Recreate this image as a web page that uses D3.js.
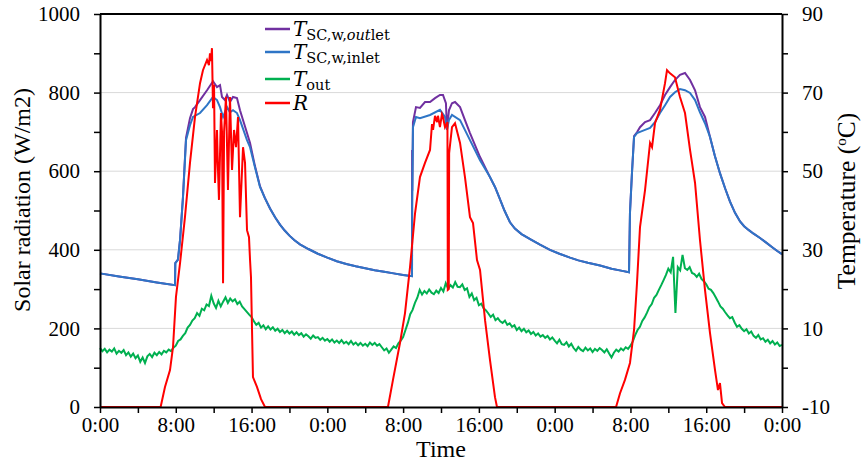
<!DOCTYPE html>
<html>
<head>
<meta charset="utf-8">
<script src="https://cdn.jsdelivr.net/npm/d3@7"></script>
<style>
  body { margin: 0; background: #fff; }
  svg text { font-family: "Liberation Serif", "Times New Roman", serif; fill: #000; }
</style>
</head>
<body>
<div id="wrapper"></div>
<script>
// solar radiation R, [hour, W/m2]
const radiation = [
  [0,0],[6.4,0],[6.86,51],[7.39,94],[7.71,153],[8.02,280],[8.45,366],[8.97,483],[9.5,621],[10.03,738],
  [10.56,824],[10.87,857],[11.3,883],[11.5,870],[11.61,900],[11.72,880],[11.82,913],[11.93,760],[12.04,820],
  [12.14,570],[12.35,705],[12.46,600],[12.56,527],[12.77,748],[12.88,700],[12.99,315],[13.1,700],[13.3,789],
  [13.51,552],[13.72,789],[13.94,603],[14.15,705],[14.36,661],[14.57,738],[14.78,483],[15.1,661],[15.31,621],
  [15.52,450],[15.73,432],[15.84,374],[15.94,331],[16.05,196],[16.15,76],[16.57,51],[17.0,20],[17.42,0],
  [30.4,0],[30.93,69],[31.67,163],[32.2,239],[32.73,356],[33.26,493],[33.78,585],[34.31,621],[34.84,654],
  [35.05,720],[35.16,705],[35.37,741],[35.58,725],[35.68,741],[35.89,712],[36.1,745],[36.21,738],[36.42,712],
  [36.68,725],[36.72,298],[36.82,300],[36.86,646],[37.16,712],[37.48,722],[38.01,672],[38.53,585],[39.06,483],
  [39.38,468],[39.8,374],[40.12,349],[40.65,221],[41.17,120],[41.7,25],[41.91,0],
  [54.48,0],[54.9,35],[55.42,69],[55.95,112],[56.38,196],[56.69,315],[57.01,458],[57.54,552],[58.07,672],
  [58.28,661],[58.59,722],[59.12,756],[59.65,824],[59.86,857],[60.18,849],[60.7,839],[61.23,789],[61.76,748],
  [62.29,654],[62.5,621],[62.82,570],[63.34,425],[63.87,298],[64.4,188],[64.93,94],[65.24,43],[65.45,61],
  [65.67,10],[65.98,0],[72,0]
];

// collector water inlet temperature, [hour, degC]
const inletTemp = [
  [0,24.0],[2,23.2],[4,22.5],[6,21.7],[7.92,21.0],[7.95,26.6],[8.23,27.5],[8.45,32.5],[8.76,43.4],[9.08,57.9],
  [9.5,61.7],[9.82,63.8],[10.56,64.8],[11.3,66.8],[11.93,68.9],[12.35,68.1],[12.67,66.3],[12.99,63.8],[13.41,66.3],
  [13.72,65.0],[14.04,65.5],[14.46,64.8],[14.78,63.0],[15.52,57.9],[15.84,56.1],[16.36,51.0],[16.89,46.0],
  [17.4,43.2],[17.95,40.5],[18.5,38.2],[19.0,36.4],[19.5,34.9],[20,33.6],[20.5,32.5],[21.11,31.4],[22,30.2],
  [23,29.0],[24,28.0],[25,27.1],[26,26.4],[27,25.8],[28,25.3],[29,24.8],[30,24.4],[31,24.0],[32,23.6],
  [32.94,23.3],[32.96,40.9],[33.04,61.2],[33.36,63.8],[33.78,63.5],[34.84,64.3],[35.89,65.6],[36.42,63.8],
  [36.63,60.5],[36.84,63.0],[37.16,64.3],[38.01,63.0],[39.06,57.9],[40.12,52.8],[41.17,48.5],[41.7,46.0],
  [42.2,43.0],[42.7,40.0],[43.28,37.0],[43.8,35.4],[44.5,34.0],[45.5,32.6],[46.45,31.3],[47.5,30.0],
  [48.5,29.0],[49.62,28.0],[50.5,27.3],[51.5,26.7],[52.79,26.0],[54,25.2],[55,24.7],[55.85,24.3],
  [55.95,39.4],[56.16,49.5],[56.38,58.7],[56.69,59.7],[57.01,60.0],[57.54,60.5],[58.07,61.0],[58.59,62.5],
  [59.12,64.8],[59.65,66.8],[60.18,68.9],[60.7,70.1],[61.23,70.9],[61.76,70.6],[62.29,69.9],[62.82,68.1],
  [63.34,65.0],[63.87,62.2],[64.4,58.7],[64.9,54.0],[65.45,49.5],[66,45.6],[66.5,42.3],[67.04,39.4],
  [67.57,37.2],[68,36.0],[68.5,35.0],[69,34.1],[69.68,33.0],[70.3,31.9],[71,30.6],[71.5,29.7],[72,28.9]
];

// collector water outlet temperature, [hour, degC]
const outletTemp = [
  [0,24.0],[2,23.2],[4,22.5],[6,21.7],[7.92,21.0],[7.95,26.6],[8.23,27.5],[8.45,32.5],[8.76,43.4],[9.08,58.5],
  [9.5,63.5],[9.82,65.8],[10.03,66.3],[10.56,68.1],[11.3,70.6],[11.93,72.9],[12.35,71.4],[12.67,71.9],[12.88,68.9],
  [13.2,68.1],[13.41,69.4],[13.72,67.6],[14.04,68.9],[14.46,68.6],[14.78,65.5],[15.52,59.7],[15.84,57.2],
  [16.36,51.3],[16.89,46.2],[17.4,43.2],[17.95,40.5],[18.5,38.2],[19.0,36.4],[19.5,34.9],[20,33.6],[20.5,32.5],
  [21.11,31.4],[22,30.2],[23,29.0],[24,28.0],[25,27.1],[26,26.4],[27,25.8],[28,25.3],[29,24.8],[30,24.4],
  [31,24.0],[32,23.6],[32.94,23.3],[32.95,55.4],[32.97,45.0],[33.04,62.5],[33.36,66.3],[33.78,66.1],
  [34.31,67.6],[34.84,67.6],[35.37,68.6],[35.89,69.4],[36.21,69.4],[36.52,67.3],[36.63,60.5],[36.84,65.5],
  [37.16,67.3],[37.48,67.6],[38.01,66.3],[38.53,63.0],[39.06,59.7],[40.12,53.6],[41.17,48.5],[41.7,46.0],
  [42.2,43.0],[42.7,40.0],[43.28,37.0],[43.8,35.4],[44.5,34.0],[45.5,32.6],[46.45,31.3],[47.5,30.0],
  [48.5,29.0],[49.62,28.0],[50.5,27.3],[51.5,26.7],[52.79,26.0],[54,25.2],[55,24.7],[55.85,24.3],
  [55.95,39.4],[56.16,49.5],[56.38,58.9],[56.69,59.9],[57.01,61.2],[57.54,62.5],[58.07,63.0],[58.59,64.8],
  [59.12,66.8],[59.65,69.4],[60.18,71.4],[60.7,73.2],[61.23,74.5],[61.76,75.0],[62.29,73.2],[62.82,70.6],
  [63.34,66.3],[63.87,63.8],[64.4,58.7],[64.9,54.0],[65.45,49.5],[66,45.6],[66.5,42.3],[67.04,39.4],
  [67.57,37.2],[68,36.0],[68.5,35.0],[69,34.1],[69.68,33.0],[70.3,31.9],[71,30.6],[71.5,29.7],[72,28.9]
];

// outdoor temperature, degC, one reading every 15 min from 0:00
const outdoorStep = 0.25;
const outdoorTemp = [
  5.0,4.2,4.8,3.9, 4.6,4.1,4.9,3.6, 4.3,3.8,4.5,3.2, 3.9,2.8,3.6,2.4, 3.1,1.5,2.6,1.2,
  2.9,3.5,2.7,3.8, 3.2,4.0,3.4,4.3, 3.9,4.6,4.2,5.1, 5.6,6.8,7.2,8.1, 8.8,10.2,10.9,12.0,
  12.6,13.9,13.2,15.0, 14.6,16.1,15.7,18.3, 16.4,15.2,17.0,15.6, 16.8,17.9,16.5,17.6, 16.9,17.4,16.2,16.8,
  15.6,14.9,14.2,13.5, 12.9,11.8,10.9,11.4, 10.2,10.8,9.8,10.5, 9.7,10.3,9.4,9.9, 9.1,9.6,8.8,9.4,
  8.7,9.2,8.4,9.0, 8.3,8.8,7.9,8.5, 8.0,7.4,8.2,7.6, 7.8,7.1,7.6,6.9, 7.3,6.6,7.2,6.4,
  6.9,6.3,7.0,6.2, 6.6,6.0,6.8,5.9, 6.4,5.7,6.3,5.6, 6.1,5.5,6.4,5.8, 6.3,5.6,6.0,5.2,
  4.4,4.9,3.8,4.6, 5.4,5.0,6.2,6.9, 7.8,9.6,11.4,13.6, 14.7,16.5,17.8,19.8, 18.6,19.5,18.9,19.9,
  19.1,18.7,19.6,19.0, 20.3,19.4,21.5,20.1, 21.0,20.4,21.8,20.6, 20.5,21.2,19.8,20.2, 18.0,18.9,17.2,17.8,
  15.9,16.3,15.1,14.6, 13.8,12.9,13.5,12.1, 12.6,11.8,11.4,12.0, 10.9,11.3,10.4,10.8, 9.6,10.2,9.3,9.9,
  9.0,9.5,8.6,9.1, 8.2,8.7,7.9,8.3, 7.6,8.1,7.2,7.7, 6.9,6.2,7.1,6.0, 5.8,6.5,5.4,6.1,
  5.0,4.3,5.3,4.6, 4.2,5.1,4.4,4.9, 4.0,4.8,4.3,5.0, 4.5,3.9,4.7,3.6, 2.6,3.8,4.6,4.1,
  4.9,4.4,5.2,4.8, 5.6,6.7,8.3,9.6, 10.4,11.9,12.8,14.0, 15.4,16.2,17.8,18.5, 19.8,21.0,22.3,23.6,
  25.2,24.3,28.2,13.9, 25.6,24.8,28.7,25.3, 24.9,25.6,24.1,23.8, 23.1,23.9,22.6,22.0, 21.2,20.1,19.8,19.0,
  17.9,16.8,15.6,15.0, 14.1,13.3,12.6,12.9, 11.5,10.4,10.8,9.9, 9.3,9.8,8.7,9.2, 8.1,7.6,8.3,7.2,
  7.5,6.6,7.1,6.2, 6.8,5.9,6.4,5.5, 5.8
];

const timeTicks = [0, 8, 16, 24, 32, 40, 48, 56, 64, 72];
const timeLabels = ["0:00", "8:00", "16:00", "0:00", "8:00", "16:00", "0:00", "8:00", "16:00", "0:00"];
const radTicks = [0, 200, 400, 600, 800, 1000];
const tempTicks = [-10, 10, 30, 50, 70, 90];

function drawChart() {
  const dimensions = {
    width: 862,
    height: 470,
    margin: { top: 14, right: 80, bottom: 63, left: 100 },
  };
  dimensions.boundedWidth = dimensions.width - dimensions.margin.left - dimensions.margin.right;
  dimensions.boundedHeight = dimensions.height - dimensions.margin.top - dimensions.margin.bottom;

  const svg = d3.select("#wrapper").append("svg")
    .attr("width", dimensions.width)
    .attr("height", dimensions.height);

  const bounds = svg.append("g")
    .attr("transform", `translate(${dimensions.margin.left},${dimensions.margin.top})`);

  const xScale = d3.scaleLinear().domain([0, 72]).range([0, dimensions.boundedWidth]);
  const radScale = d3.scaleLinear().domain([0, 1000]).range([dimensions.boundedHeight, 0]);
  const tempScale = d3.scaleLinear().domain([-10, 90]).range([dimensions.boundedHeight, 0]);

  // gridlines
  bounds.append("g").selectAll("line")
    .data(radTicks.filter(d => d > 0 && d < 1000))
    .join("line")
    .attr("x1", 0).attr("x2", dimensions.boundedWidth)
    .attr("y1", d => radScale(d)).attr("y2", d => radScale(d))
    .attr("stroke", "#d9d9d9").attr("stroke-width", 1);

  // lines
  const radLine = d3.line().x(d => xScale(d[0])).y(d => radScale(d[1]));
  const tempLine = d3.line().x(d => xScale(d[0])).y(d => tempScale(d[1]));
  const outdoorLine = d3.line().x((d, i) => xScale(i * outdoorStep)).y(d => tempScale(d));

  bounds.append("path").attr("d", tempLine(outletTemp))
    .attr("fill", "none").attr("stroke", "#7030a0").attr("stroke-width", 2);
  bounds.append("path").attr("d", tempLine(inletTemp))
    .attr("fill", "none").attr("stroke", "#2e75c6").attr("stroke-width", 2);
  bounds.append("path").attr("d", outdoorLine(outdoorTemp))
    .attr("fill", "none").attr("stroke", "#00b050").attr("stroke-width", 2);
  bounds.append("path").attr("d", radLine(radiation))
    .attr("fill", "none").attr("stroke", "#ff0000").attr("stroke-width", 2);

  // axes
  const xAxis = d3.axisBottom(xScale)
    .tickValues(d3.range(0, 73, 4))
    .tickFormat(d => { const i = timeTicks.indexOf(d); return i >= 0 ? timeLabels[i] : ""; })
    .tickSize(6).tickSizeOuter(0).tickPadding(4);
  const yAxisLeft = d3.axisLeft(radScale)
    .tickValues(d3.range(0, 1001, 100))
    .tickFormat(d => radTicks.includes(d) ? d : "")
    .tickSize(6).tickSizeOuter(0).tickPadding(14);
  const yAxisRight = d3.axisRight(tempScale)
    .tickValues(d3.range(-10, 91, 10))
    .tickFormat(d => tempTicks.includes(d) ? d : "")
    .tickSize(6).tickSizeOuter(0).tickPadding(14);

  const styleAxis = g => {
    g.select(".domain").attr("stroke", "#000").attr("stroke-width", 2);
    g.selectAll(".tick line").attr("stroke", "#000").attr("stroke-width", 1.5);
    g.selectAll(".tick text").style("font-size", "21px").style("font-family", "'Liberation Serif', serif");
  };

  bounds.append("g").attr("transform", `translate(0,${dimensions.boundedHeight})`).call(xAxis).call(styleAxis);
  bounds.append("g").call(yAxisLeft).call(styleAxis);
  bounds.append("g").attr("transform", `translate(${dimensions.boundedWidth},0)`).call(yAxisRight).call(styleAxis);

  bounds.append("line")
    .attr("x1", 0).attr("x2", dimensions.boundedWidth).attr("y1", 0).attr("y2", 0)
    .attr("stroke", "#000").attr("stroke-width", 2);

  // axis titles
  svg.append("text")
    .attr("transform", "translate(30,200) rotate(-90)")
    .attr("text-anchor", "middle")
    .style("font-size", "24px")
    .text("Solar radiation (W/m2)");

  const rightTitle = svg.append("text")
    .attr("transform", "translate(855,201) rotate(-90)")
    .attr("text-anchor", "middle")
    .style("font-size", "25.5px");
  rightTitle.append("tspan").text("Temperature (");
  rightTitle.append("tspan").attr("dy", -9).style("font-size", "15px").text("o");
  rightTitle.append("tspan").attr("dy", 9).text("C)");

  svg.append("text")
    .attr("x", 441).attr("y", 457)
    .attr("text-anchor", "middle")
    .style("font-size", "24px")
    .text("Time");

  // legend
  const legendItems = [
    { color: "#7030a0", parts: [["T", true, false], ["SC,w,", false, true], ["out", true, true], ["let", false, true]] },
    { color: "#2e75c6", parts: [["T", true, false], ["SC,w,inlet", false, true]] },
    { color: "#00b050", parts: [["T", true, false], ["out", false, true]] },
    { color: "#ff0000", parts: [["R", true, false]] },
  ];
  const legendY = [29, 52, 79, 103];
  const legend = svg.append("g");
  legendItems.forEach((item, i) => {
    const y = legendY[i];
    legend.append("line")
      .attr("x1", 265).attr("x2", 290).attr("y1", y).attr("y2", y)
      .attr("stroke", item.color).attr("stroke-width", 2.5);
    const t = legend.append("text")
      .attr("x", 293).attr("y", y + 7)
      .style("font-family", "'DejaVu Serif', serif");
    let sub = false;
    item.parts.forEach(([txt, italic, isSub]) => {
      const ts = t.append("tspan").text(txt)
        .style("font-style", italic ? "italic" : "normal")
        .style("font-size", isSub ? "14.5px" : "20px");
      if (isSub && !sub) ts.attr("dy", 4);
      sub = isSub;
    });
  });
}

drawChart();
</script>
</body>
</html>
